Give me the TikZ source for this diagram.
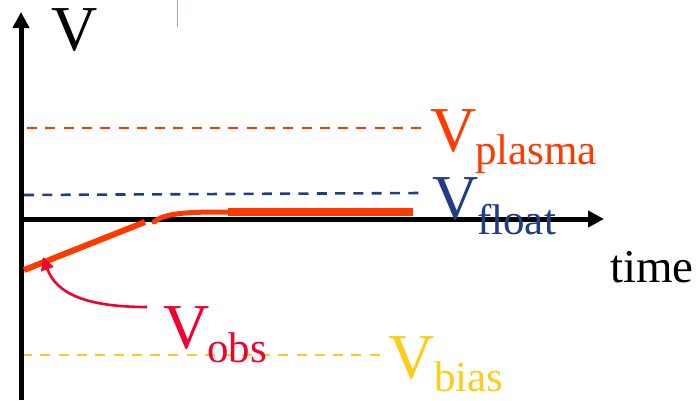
\documentclass[tikz,border=0pt]{standalone}
\usepackage{fontspec}
\setmainfont{Liberation Serif}
\usetikzlibrary{arrows.meta}
\definecolor{plasmacol}{HTML}{FF3A00}
\definecolor{obscol}{HTML}{F2002E}
\definecolor{floatcol}{HTML}{213D86}
\definecolor{biascol}{HTML}{FFCC1A}
\definecolor{tickcol}{HTML}{9AA6C8}
\tikzset{
  axis/.style={line width=5pt, -{Triangle[length=16pt,width=16pt]}},
  level/.style={line width=2.6pt, dash pattern=on 10pt off 8.3pt},
  bigV/.style={anchor=base west, inner sep=0pt, font=\fontsize{64}{64}\selectfont},
  subtxt/.style={anchor=base west, inner sep=0pt, font=\fontsize{43}{43}\selectfont},
}
\begin{document}
\begin{tikzpicture}[x=1pt,y=-1pt]
\useasboundingbox (0,0) rectangle (699,400);
% coordinates
\coordinate (yb) at (21,400);
\coordinate (yt) at (21,12);
\coordinate (xl) at (19,219);
\coordinate (xr) at (604,219);
\coordinate (pl) at (27,128);  \coordinate (pr) at (422,128);
\coordinate (fl) at (24,195);  \coordinate (fr) at (422,193);
\coordinate (bl) at (22,355);  \coordinate (br) at (387,355);
\coordinate (tk1) at (177,0);  \coordinate (tk2) at (177,27);
\coordinate (c0) at (24,270);  \coordinate (c1) at (145,222);
\coordinate (c2) at (154,222); \coordinate (c3) at (228,212);
\coordinate (c4) at (413,212);
\coordinate (as) at (147,307); \coordinate (at) at (43,257);
% small tick at top
\draw[tickcol, line width=0.8pt] (tk1) -- (tk2);
% dashed levels
\draw[level, plasmacol] (pl) -- (pr);
\draw[level, floatcol] (fl) -- (fr);
\draw[level, biascol] (bl) -- (br);
% axes
\draw[axis] (yb) -- (yt);
\draw[axis] (xl) -- (xr);
% observed potential curve
\draw[plasmacol, line width=6pt] (c0) -- (c1);
\draw[plasmacol, line width=5pt, line cap=round] (c2) .. controls (165,212) and (195,212) .. (c3);
\draw[plasmacol, line width=7.5pt] (c3) -- (c4);
% pointer arrow
\draw[obscol, line width=2.6pt, -{Triangle[length=13pt,width=13pt]}] (as) .. controls (85,307) and (56,293) .. (at);
% labels
\node[bigV] (vlab) at (51,50) {V};
\node[bigV, text=plasmacol] (vp) at (430,151) {V};
\node[subtxt, text=plasmacol] (vps) at (475,164) {plasma};
\node[bigV, text=floatcol] (vf) at (432,219) {V};
\node[subtxt, text=floatcol] (vfs) at (477,234) {float};
\node[bigV, text=obscol] (vo) at (163,348) {V};
\node[subtxt, text=obscol] (vos) at (207,362) {obs};
\node[bigV, text=biascol] (vb) at (388,378) {V};
\node[subtxt, text=biascol] (vbs) at (434,391) {bias};
\node[anchor=base west, inner sep=0pt, font=\fontsize{47}{47}\selectfont] (tm) at (610,282) {time};
\end{tikzpicture}
\end{document}
